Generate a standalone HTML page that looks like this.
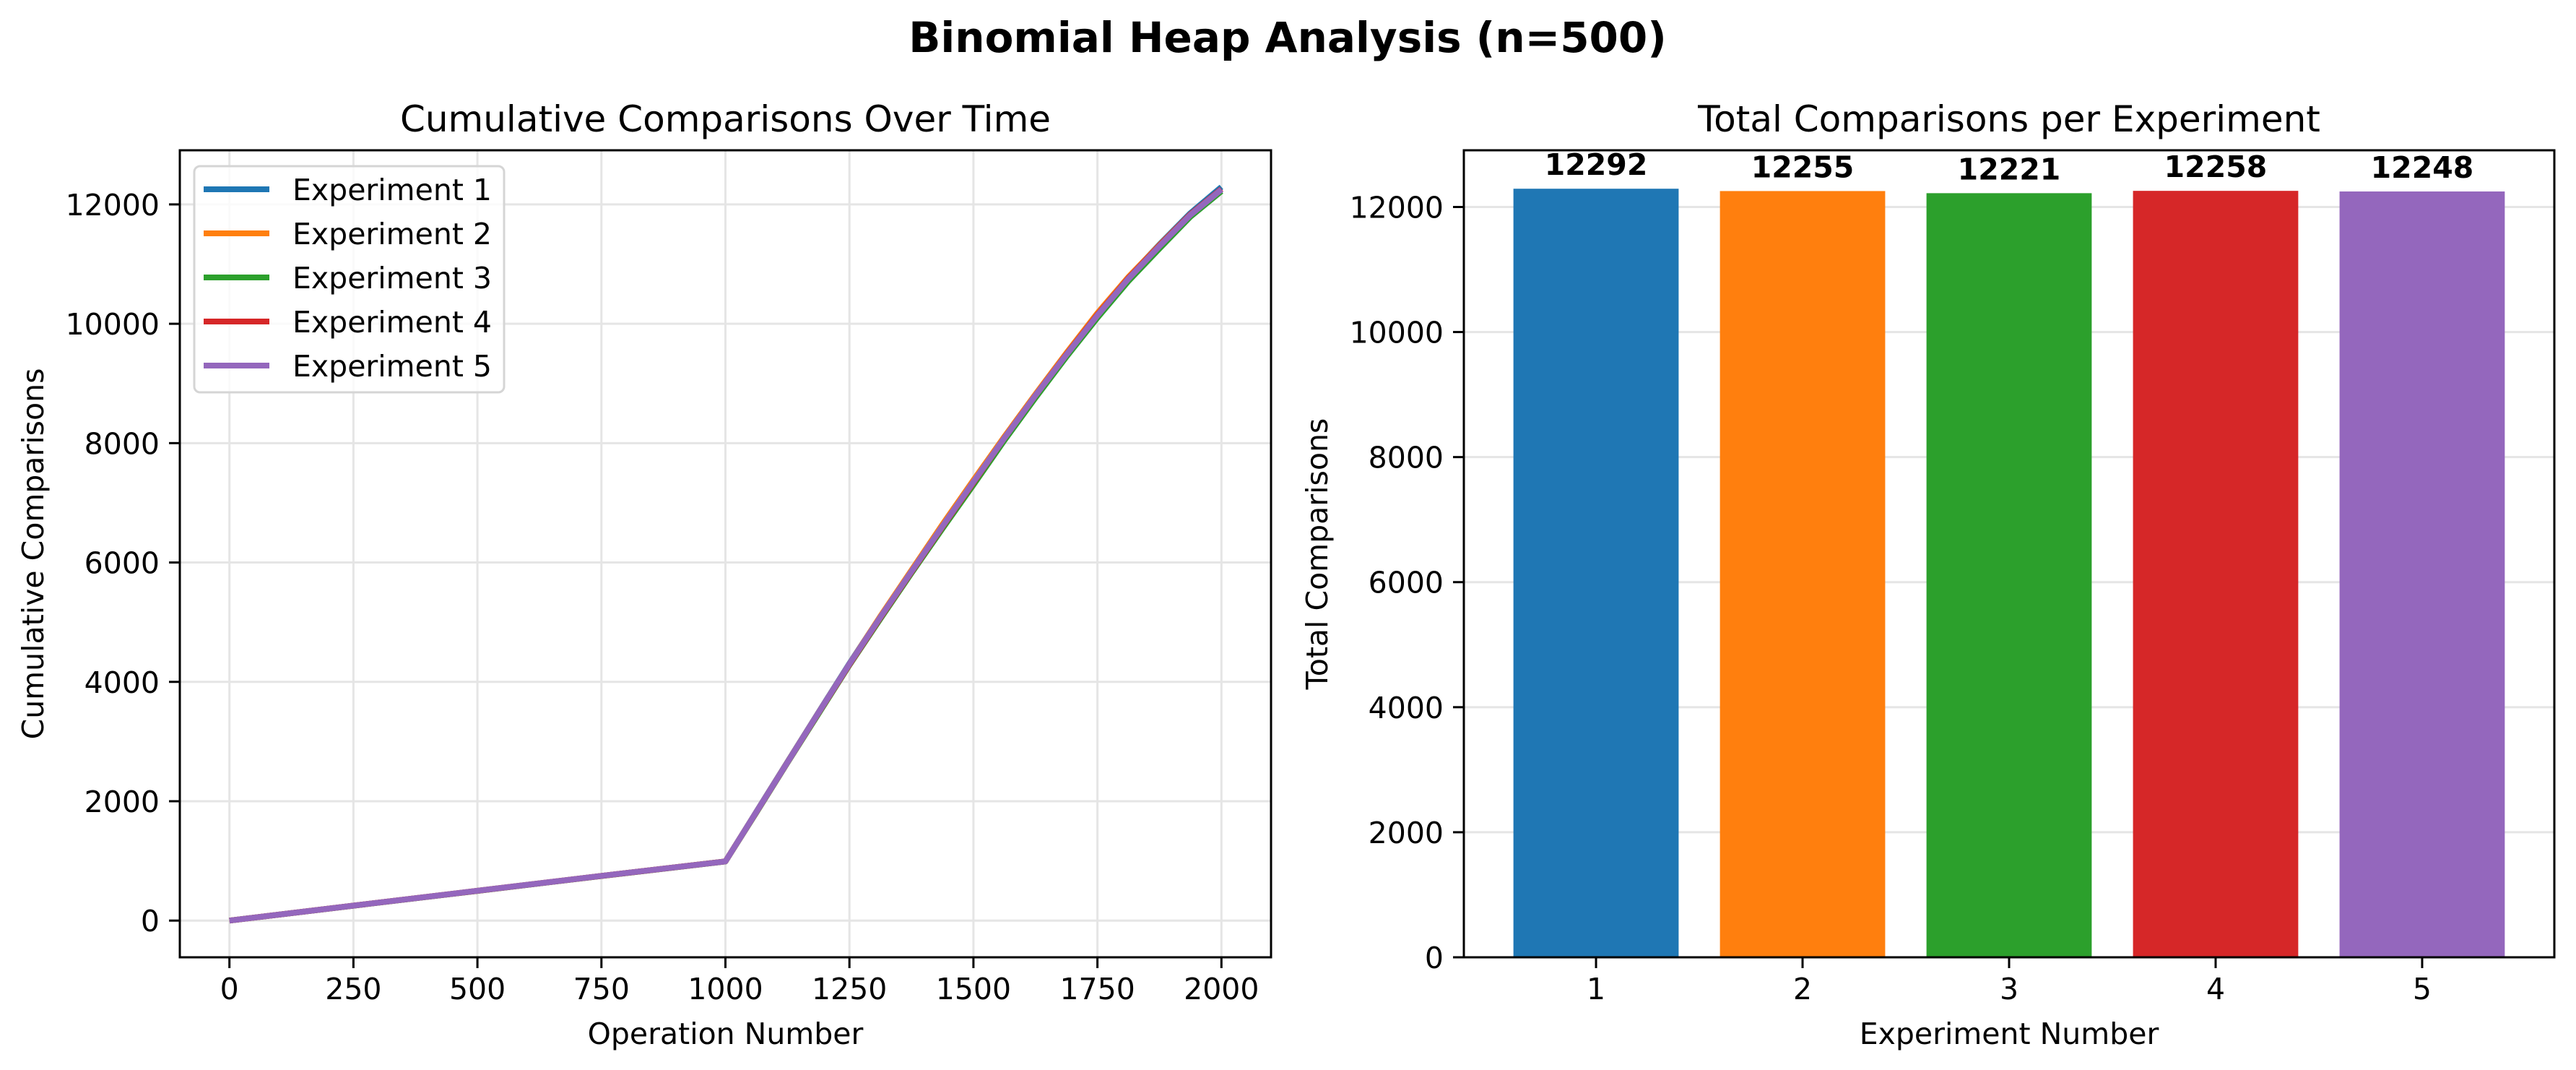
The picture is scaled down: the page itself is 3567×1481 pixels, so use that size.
<!DOCTYPE html>
<html><head><meta charset="utf-8"><style>
html,body{margin:0;padding:0;background:#fff;}
svg{display:block;font-family:"DejaVu Sans","Liberation Sans",sans-serif;}
</style></head><body>
<svg id="fig" width="3567" height="1481" viewBox="0 0 3567 1481" xmlns="http://www.w3.org/2000/svg">
<rect width="3567" height="1481" fill="#fff"/>
<text x="1783" y="72" text-anchor="middle" font-size="58" font-weight="bold">Binomial Heap Analysis (n=500)</text>
<g id="left"></g>
<g id="right"></g>
</svg>
<script>
const opX = [0,250,500,750,1000,1062,1125,1187,1250,1312,1375,1437,1500,1562,1625,1687,1750,1812,1875,1937,2000];
const exp1 = [0,250,499,748,992,1820,2660,3480,4310,5090,5860,6610,7360,8090,8810,9490,10160,10770,11330,11850,12292];
const exp2 = [0,251,500,749,993,1815,2655,3475,4300,5095,5870,6630,7380,8105,8820,9505,10180,10780,11320,11830,12255];
const exp3 = [0,249,498,747,990,1805,2645,3455,4280,5050,5820,6560,7300,8040,8760,9440,10100,10710,11260,11790,12221];
const exp4 = [0,250,499,748,991,1812,2650,3470,4290,5070,5840,6590,7340,8080,8800,9480,10150,10760,11310,11830,12258];
const exp5 = [0,250,500,749,992,1814,2652,3474,4300,5080,5850,6600,7350,8080,8800,9475,10140,10750,11300,11820,12248];
const seriesNames = ["Experiment 1","Experiment 2","Experiment 3","Experiment 4","Experiment 5"];
const colors = ["#1f77b4","#ff7f0e","#2ca02c","#d62728","#9467bd"];
const lineXTicks = [0,250,500,750,1000,1250,1500,1750,2000];
const lineYTicks = [0,2000,4000,6000,8000,10000,12000];
const barCats = [1,2,3,4,5];
const barVals = [12292,12255,12221,12258,12248];
const barYTicks = [0,2000,4000,6000,8000,10000,12000];

const NS="http://www.w3.org/2000/svg";
function mk(parent,tag,attrs,text){const e=document.createElementNS(NS,tag);for(const k in attrs)e.setAttribute(k,attrs[k]);if(text!==undefined)e.textContent=text;parent.appendChild(e);return e;}

// LEFT
(function(){
  const g=document.getElementById('left');
  const L=249,R=1760,T=208,B=1325;
  const xmin=-100,xmax=2100,ymin=-615,ymax=12907;
  const sx=v=>L+(v-xmin)/(xmax-xmin)*(R-L);
  const sy=v=>B-(v-ymin)/(ymax-ymin)*(B-T);
  lineXTicks.forEach(t=>{
    const l=mk(g,'line',{x1:sx(t),x2:sx(t),y1:T,y2:B,stroke:'#e5e5e5','stroke-width':3});
    
    
    const k=mk(g,'line',{x1:sx(t),x2:sx(t),y1:B,y2:B+15,stroke:'#000','stroke-width':3});
    
    
    const tx=mk(g,'text',{x:sx(t),y:B+58,'text-anchor':'middle','font-size':41},String(t));
    
    
  });
  lineYTicks.forEach(t=>{
    const l=mk(g,'line',{x1:L,x2:R,y1:sy(t),y2:sy(t),stroke:'#e5e5e5','stroke-width':3});
    
    
    const k=mk(g,'line',{x1:L-15,x2:L,y1:sy(t),y2:sy(t),stroke:'#000','stroke-width':3});
    
    
    const tx=mk(g,'text',{x:L-28,y:sy(t)+15,'text-anchor':'end','font-size':41},String(t));
    
    
  });
  [exp1,exp2,exp3,exp4,exp5].forEach((s,i)=>{
    const d=s.map((v,j)=>(j?'L':'M')+sx(opX[j]).toFixed(1)+','+sy(v).toFixed(1)).join(' ');
    const p=mk(g,'path',{d:d,fill:'none',stroke:colors[i],'stroke-width':8,'stroke-linejoin':'round'});
    
    
  });
  const fr=mk(g,'rect',{x:L,y:T,width:R-L,height:B-T,fill:'none',stroke:'#000','stroke-width':3});
  
  
  const lg=mk(g,'g',{});
  
  
  mk(lg,'rect',{x:269,y:230,width:429,height:313,rx:8,fill:'#fff','fill-opacity':0.8,stroke:'#d5d5d5','stroke-width':3});
  seriesNames.forEach((n,i)=>{
    const y=262+i*61;
    const e=mk(lg,'g',{});
    
    
    mk(e,'line',{x1:282,x2:373,y1:y,y2:y,stroke:colors[i],'stroke-width':8});
    mk(e,'text',{x:405,y:y+15,'font-size':41},n);
  });
  const ti=mk(g,'text',{x:(L+R)/2,y:182,'text-anchor':'middle','font-size':50},'Cumulative Comparisons Over Time');
  
  
  const xl=mk(g,'text',{x:(L+R)/2,y:1445,'text-anchor':'middle','font-size':41},'Operation Number');
  
  
  const yl=mk(g,'text',{x:60,y:(T+B)/2,'text-anchor':'middle','font-size':41,transform:'rotate(-90 60 '+((T+B)/2)+')'},'Cumulative Comparisons');
  
  
})();

// RIGHT
(function(){
  const g=document.getElementById('right');
  const L=2027,R=3537,T=208,B=1325;
  const xmin=0.36,xmax=5.64,ymin=0,ymax=12907;
  const sx=v=>L+(v-xmin)/(xmax-xmin)*(R-L);
  const sy=v=>B-(v-ymin)/(ymax-ymin)*(B-T);
  barYTicks.forEach(t=>{
    const l=mk(g,'line',{x1:L,x2:R,y1:sy(t),y2:sy(t),stroke:'#e5e5e5','stroke-width':3});
    
    
  });
  barCats.forEach((c,i)=>{
    const b=mk(g,'rect',{x:sx(c-0.4),y:sy(barVals[i]),width:sx(c+0.4)-sx(c-0.4),height:sy(0)-sy(barVals[i]),fill:colors[i]});
    
    
    const v=mk(g,'text',{x:sx(c),y:sy(barVals[i])-19,'text-anchor':'middle','font-size':41,'font-weight':'bold'},String(barVals[i]));
    
    
    const k=mk(g,'line',{x1:sx(c),x2:sx(c),y1:B,y2:B+15,stroke:'#000','stroke-width':3});
    
    
    const tx=mk(g,'text',{x:sx(c),y:B+58,'text-anchor':'middle','font-size':41},String(c));
    
    
  });
  barYTicks.forEach(t=>{
    const k=mk(g,'line',{x1:L-15,x2:L,y1:sy(t),y2:sy(t),stroke:'#000','stroke-width':3});
    
    
    const tx=mk(g,'text',{x:L-28,y:sy(t)+15,'text-anchor':'end','font-size':41},String(t));
    
    
  });
  const fr=mk(g,'rect',{x:L,y:T,width:R-L,height:B-T,fill:'none',stroke:'#000','stroke-width':3});
  
  
  const ti=mk(g,'text',{x:(L+R)/2,y:182,'text-anchor':'middle','font-size':50},'Total Comparisons per Experiment');
  
  
  const xl=mk(g,'text',{x:(L+R)/2,y:1445,'text-anchor':'middle','font-size':41},'Experiment Number');
  
  
  const yl=mk(g,'text',{x:1838,y:(T+B)/2,'text-anchor':'middle','font-size':41,transform:'rotate(-90 1838 '+((T+B)/2)+')'},'Total Comparisons');
  
  
})();
</script>
</body></html>
